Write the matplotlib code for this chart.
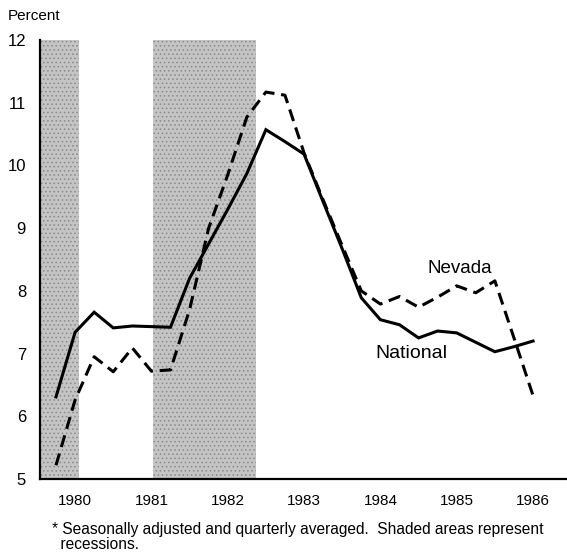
import matplotlib
matplotlib.use("Agg")
import matplotlib.pyplot as plt

# quarterly unemployment rate, percent (26 quarters, index 0..25)
national = [6.31, 7.34, 7.66, 7.41, 7.44, 7.43, 7.42, 8.2, 8.75, 9.3, 9.87, 10.57, 10.38,
            10.18, 9.42, 8.67, 7.89, 7.54, 7.46, 7.25, 7.36, 7.33, 7.18, 7.03, 7.11, 7.2]
nevada = [5.22, 6.26, 6.95, 6.71, 7.09, 6.72, 6.74, 7.7, 9.0, 9.85, 10.77, 11.17, 11.12,
          10.2, 9.45, 8.72, 8.0, 7.79, 7.91, 7.74, 7.9, 8.08, 7.97, 8.16, 7.25, 6.33]
year_labels = ["1980", "1981", "1982", "1983", "1984", "1985", "1986"]
year_pos = [1, 5, 9, 13, 17, 21, 25]
recessions = [(-0.84, 1.2), (5.08, 10.48)]

plt.rcParams["font.family"] = ["Liberation Sans", "DejaVu Sans"]
plt.rcParams["hatch.linewidth"] = 0.6

fig = plt.figure(figsize=(5.67, 5.52), dpi=100)
ax = fig.add_axes([0.0705, 0.1322, 0.9295, 0.7953])

qx = list(range(len(national)))

# stippled recession bands
for x0, x1 in recessions:
    ax.axvspan(x0, x1, facecolor="#c4c4c4", edgecolor="#8a8a8a", hatch="....",
               linewidth=0, zorder=0)

ax.plot(qx, national, color="black", linewidth=2.2, solid_joinstyle="miter", zorder=3)
ax.plot(qx, nevada, color="black", linewidth=2.2, dashes=(4, 2.2), zorder=3)

ax.set_xlim(-0.84, 26.78)
ax.set_ylim(5, 12)
ax.set_yticks(range(5, 13))
ax.set_yticklabels([str(v) for v in range(5, 13)], fontsize=12)
ax.set_xticks(year_pos)
ax.set_xticklabels(year_labels, fontsize=11)
ax.tick_params(axis="y", length=0, pad=10)
ax.tick_params(axis="x", length=0, pad=11)

for side in ["top", "right"]:
    ax.spines[side].set_visible(False)
ax.spines["left"].set_linewidth(1.6)
ax.spines["bottom"].set_linewidth(1.6)

ax.text(21.15, 8.35, "Nevada", fontsize=13.5, ha="center", va="center")
ax.text(18.6, 7.0, "National", fontsize=14, ha="center", va="center")

fig.text(8 / 567, 1 - 16 / 552, "Percent", fontsize=11, ha="left", va="center")
fig.text(52 / 567, 1 - 537 / 552,
         "* Seasonally adjusted and quarterly averaged.  Shaded areas represent\n  recessions.",
         fontsize=11.2, ha="left", va="center", linespacing=0.95)

fig.savefig("out.png", dpi=100)
